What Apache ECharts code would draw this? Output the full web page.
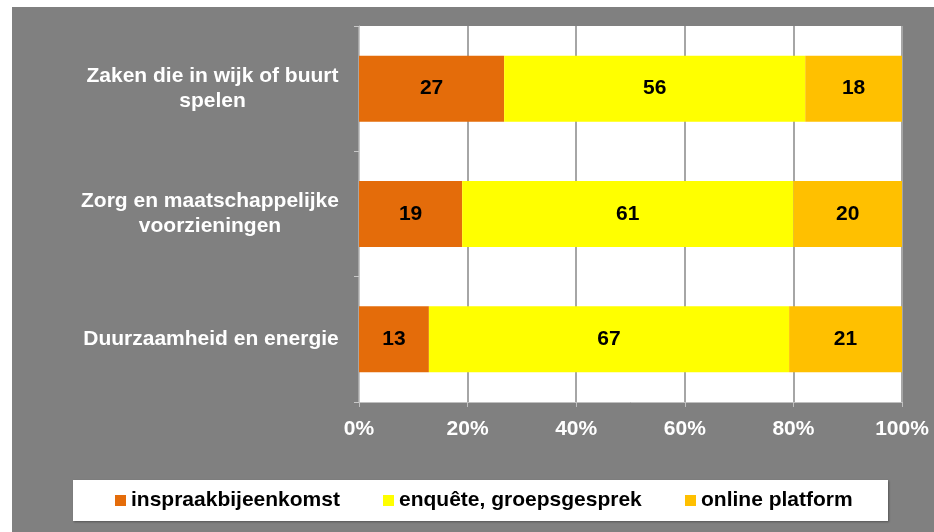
<!DOCTYPE html>
<html>
<head>
<meta charset="utf-8">
<script src="https://cdn.jsdelivr.net/npm/echarts@6/dist/echarts.min.js"></script>
<style>
  html, body { margin: 0; padding: 0; background: #fff; }
  #chart { position: absolute; left: 12px; top: 7px; width: 922px; height: 525px; }
</style>
</head>
<body>
<div id="chart"></div>
<script>
var categories = [
    'Zaken die in wijk of buurt\nspelen',
    'Zorg en maatschappelijke\nvoorzieningen',
    'Duurzaamheid en energie'
];
var seriesNames = ['inspraakbijeenkomst', 'enquête, groepsgesprek', 'online platform'];
var inspraak = [27, 19, 13];
var enquete = [56, 61, 67];
var online = [18, 20, 21];
var xTicks = [0, 20, 40, 60, 80, 100];

var colors = ['#E46C0A', '#FFFF00', '#FFC000'];
var font = "'Liberation Sans', Arial, sans-serif";
var rows = [inspraak, enquete, online];

// share of each row total, the labels show the raw numbers
function share(arr, i) {
    var total = inspraak[i] + enquete[i] + online[i];
    return arr[i] / total * 100;
}

// centre the lines of each category label inside a box as wide as its longest line
var ctx = document.createElement('canvas').getContext('2d');
ctx.font = 'bold 21px ' + font;
var rich = {};
categories.forEach(function (c, i) {
    var w = 0;
    c.split('\n').forEach(function (line) {
        w = Math.max(w, ctx.measureText(line).width);
    });
    rich['c' + i] = {
        width: Math.ceil(w), align: 'center', color: '#fff',
        fontSize: 21, fontWeight: 'bold', fontFamily: font, lineHeight: 25
    };
});

var series = rows.map(function (arr, s) {
    return {
        name: seriesNames[s],
        type: 'bar',
        stack: 'total',
        barWidth: 66,
        itemStyle: { color: colors[s] },
        label: {
            show: true,
            position: 'inside',
            color: '#000',
            fontSize: 21,
            fontWeight: 'bold',
            fontFamily: font,
            formatter: function (p) { return arr[p.dataIndex]; }
        },
        data: arr.map(function (v, i) { return share(arr, i); })
    };
});

var legendLeft = [103, 371, 673];

var option = {
    backgroundColor: '#808080',
    animation: false,
    textStyle: { fontFamily: font },
    grid: {
        left: 347, right: 32, top: 19, bottom: 130,
        show: true, backgroundColor: '#fff', borderWidth: 0
    },
    graphic: [{
        type: 'rect',
        z: 1,
        shape: { x: 61, y: 473, width: 815, height: 41 },
        style: {
            fill: '#fff',
            shadowBlur: 2, shadowOffsetX: 1, shadowOffsetY: 1,
            shadowColor: 'rgba(0,0,0,0.35)'
        }
    }],
    legend: seriesNames.map(function (n, i) {
        return {
            data: [n],
            left: legendLeft[i],
            top: 483,
            padding: 0,
            z: 10,
            itemWidth: 11,
            itemHeight: 11,
            icon: 'rect',
            selectedMode: false,
            textStyle: { color: '#000', fontSize: 21, fontWeight: 'bold', fontFamily: font }
        };
    }),
    xAxis: {
        type: 'value',
        min: xTicks[0],
        max: xTicks[xTicks.length - 1],
        interval: 20,
        axisLine: { show: true, lineStyle: { color: '#bfbfbf', width: 1 } },
        axisTick: { show: true, length: 5, lineStyle: { color: '#bfbfbf' } },
        splitLine: { show: true, lineStyle: { color: '#a6a6a6', width: 2 } },
        axisLabel: {
            color: '#fff', fontSize: 21, fontWeight: 'bold', fontFamily: font,
            margin: 17,
            formatter: '{value}%'
        }
    },
    yAxis: {
        type: 'category',
        inverse: true,
        data: categories,
        axisLine: { show: true, lineStyle: { color: '#c8c8c8', width: 1 } },
        axisTick: { show: true, length: 5, lineStyle: { color: '#c8c8c8' } },
        axisLabel: {
            margin: 20,
            align: 'right',
            rich: rich,
            formatter: function (v, i) {
                return v.split('\n').map(function (line) {
                    return '{c' + i + '|' + line + '}';
                }).join('\n');
            }
        }
    },
    series: series
};

var chart = echarts.init(document.getElementById('chart'));
chart.setOption(option);
</script>
</body>
</html>
